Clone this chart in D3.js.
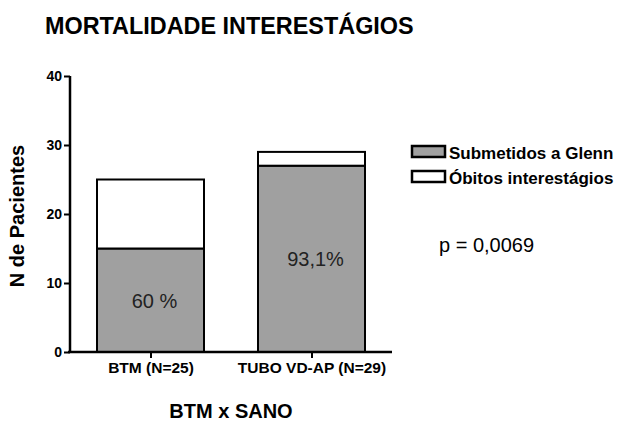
<!DOCTYPE html>
<html>
<head>
<meta charset="utf-8">
<script src="https://cdn.jsdelivr.net/npm/d3@7"></script>
<style>
  body { margin: 0; background: #fff; }
  text { font-family: "Liberation Sans", Arial, sans-serif; }
</style>
</head>
<body>
<div id="chart-area"></div>
<script>
const categories = ["BTM (N=25)", "TUBO VD-AP (N=29)"]
const submetidos = [15, 27]
const obitos = [10, 2]
const percentLabels = ["60 %", "93,1%"]
const seriesNames = ["Submetidos a Glenn", "Óbitos interestágios"]
const yTicks = [0, 10, 20, 30, 40]

const svg = d3.select("#chart-area").append("svg")
    .attr("width", 620)
    .attr("height", 422)

const x = d3.scalePoint()
    .domain(categories)
    .range([70, 392])
    .padding(0.5)

const y = d3.scaleLinear()
    .domain([0, 40])
    .range([352, 76])

const BAR_W = 107
const grey = "#a0a0a0"

// Title
svg.append("text")
    .attr("x", 45)
    .attr("y", 34)
    .attr("font-size", "23.4px")
    .attr("font-weight", "bold")
    .text("MORTALIDADE INTERESTÁGIOS")

// Bars - grey bottom
svg.selectAll(".sub")
    .data(categories)
    .enter().append("rect")
    .attr("class", "sub")
    .attr("x", d => x(d) - BAR_W / 2)
    .attr("width", BAR_W)
    .attr("y", (d, i) => y(submetidos[i]))
    .attr("height", (d, i) => y(0) - y(submetidos[i]))
    .attr("fill", grey)
    .attr("stroke", "#000")
    .attr("stroke-width", 2)

// Bars - white top
svg.selectAll(".obi")
    .data(categories)
    .enter().append("rect")
    .attr("class", "obi")
    .attr("x", d => x(d) - BAR_W / 2)
    .attr("width", BAR_W)
    .attr("y", (d, i) => y(submetidos[i] + obitos[i]))
    .attr("height", (d, i) => y(submetidos[i]) - y(submetidos[i] + obitos[i]))
    .attr("fill", "#fff")
    .attr("stroke", "#000")
    .attr("stroke-width", 2)

// Percent labels inside grey segments
const pctBase = [308, 266]
svg.selectAll(".pct")
    .data(categories)
    .enter().append("text")
    .attr("class", "pct")
    .attr("x", d => x(d) + 4)
    .attr("y", (d, i) => pctBase[i])
    .attr("text-anchor", "middle")
    .attr("font-size", "20px")
    .attr("fill", "#222")
    .text((d, i) => percentLabels[i])

// Y axis
const yAxis = svg.append("g")
    .attr("transform", "translate(70,0)")
    .call(d3.axisLeft(y).tickValues(yTicks).tickSize(6).tickPadding(2))
yAxis.select(".domain").attr("stroke-width", 2.5).attr("d", `M0,${y(40)}V${y(0)}`)
yAxis.selectAll(".tick line").attr("stroke-width", 2)
yAxis.selectAll(".tick text")
    .style("font-size", "14px")
    .style("font-weight", "bold")
    .style("font-family", "Liberation Sans, Arial, sans-serif")
    .attr("fill", "#000")

// X axis
const xAxis = svg.append("g")
    .attr("transform", `translate(0,${y(0)})`)
    .call(d3.axisBottom(x).tickSize(6).tickPadding(4))
xAxis.select(".domain").attr("stroke-width", 2.5).attr("d", "M68,0H392")
xAxis.selectAll(".tick line").attr("stroke-width", 2)
xAxis.selectAll(".tick text")
    .style("font-size", "15.5px")
    .style("font-weight", "bold")
    .style("font-family", "Liberation Sans, Arial, sans-serif")
    .attr("fill", "#000")

// Axis titles
svg.append("text")
    .attr("transform", "rotate(-90)")
    .attr("x", -216)
    .attr("y", 24)
    .attr("text-anchor", "middle")
    .attr("font-size", "20px")
    .attr("font-weight", "bold")
    .text("N de Pacientes")

svg.append("text")
    .attr("x", 231)
    .attr("y", 418)
    .attr("text-anchor", "middle")
    .attr("font-size", "20px")
    .attr("font-weight", "bold")
    .text("BTM x SANO")

// Legend
const legend = svg.selectAll(".legend")
    .data(seriesNames)
    .enter().append("g")
    .attr("class", "legend")
    .attr("transform", (d, i) => `translate(412,${146 + i * 25})`)
legend.append("rect")
    .attr("width", 33)
    .attr("height", 11)
    .attr("fill", (d, i) => i === 0 ? grey : "#fff")
    .attr("stroke", "#000")
    .attr("stroke-width", 2.5)
legend.append("text")
    .attr("x", 37)
    .attr("y", 13)
    .attr("font-size", "17px")
    .attr("font-weight", "bold")
    .text(d => d)

// p value
svg.append("text")
    .attr("x", 439)
    .attr("y", 252)
    .attr("font-size", "20px")
    .text("p = 0,0069")
</script>
</body>
</html>
